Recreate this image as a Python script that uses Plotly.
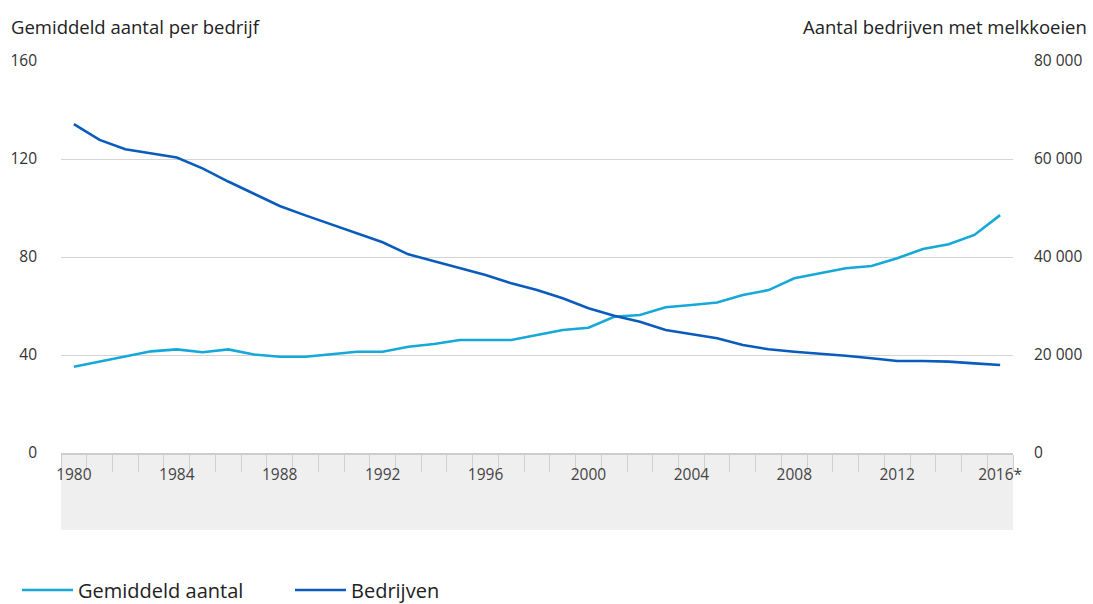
import plotly.graph_objects as go

years = list(range(1980, 2017))
gemiddeld_aantal = [35.2, 37.3, 39.3, 41.5, 42.3, 41.1, 42.3, 40.2, 39.3, 39.3,
                    40.3, 41.3, 41.3, 43.4, 44.5, 46.1, 46.1, 46.1, 48.2, 50.2,
                    51.1, 55.6, 56.3, 59.5, 60.4, 61.4, 64.5, 66.5, 71.3, 73.2,
                    75.4, 76.3, 79.5, 83.3, 85.2, 89.0, 97.1]
bedrijven = [67100, 63900, 62000, 61200, 60300, 58100, 55400, 52900, 50400, 48500,
             46660, 44830, 43000, 40550, 39100, 37690, 36330, 34630, 33270, 31570,
             29530, 28020, 26800, 25100, 24290, 23400, 22040, 21160, 20680, 20340,
             19860, 19320, 18780, 18780, 18640, 18300, 17960]

x_tickvals = [1980, 1984, 1988, 1992, 1996, 2000, 2004, 2008, 2012, 2016]
x_ticktext = ["1980", "1984", "1988", "1992", "1996", "2000", "2004", "2008", "2012", "2016*"]
y_left_ticks = [0, 40, 80, 120, 160]
y_right_ticks = [0, 20000, 40000, 60000, 80000]
y_right_text = ["0", "20 000", "40 000", "60 000", "80 000"]

LIGHT = "#16a8d8"
DARK = "#0a5cbc"
FONT = "Open Sans"

fig = go.Figure()
fig.add_trace(go.Scatter(x=years, y=gemiddeld_aantal, name="Gemiddeld aantal",
                         mode="lines", line=dict(color=LIGHT, width=2.6), yaxis="y"))
fig.add_trace(go.Scatter(x=years, y=bedrijven, name="Bedrijven",
                         mode="lines", line=dict(color=DARK, width=2.6), yaxis="y2"))

L, R, T, B = 61, 80, 61, 151
W, H = 1093, 604
pw = W - L - R
ph = H - T - B

def px_x(px):
    return (px - L) / pw

def px_y(py):
    return (H - B - py) / ph

fig.update_layout(
    width=W, height=H,
    margin=dict(l=L, r=R, t=T, b=B, autoexpand=False),
    paper_bgcolor="white", plot_bgcolor="white",
    font=dict(family=FONT, size=14, color="#333333"),
    showlegend=True,
    legend=dict(orientation="h", x=px_x(17), y=px_y(590), xanchor="left", yanchor="middle",
                font=dict(family=FONT, size=20, color="#222222"),
                itemwidth=51, entrywidth=207, entrywidthmode="pixels",
                bgcolor="rgba(0,0,0,0)"),
    xaxis=dict(type="linear", range=[1979.5, 2016.5], tickvals=x_tickvals, ticktext=x_ticktext,
               ticks="", showgrid=False, zeroline=False, showline=True, linecolor="#cccccc",
               linewidth=1.5, tickfont=dict(family=FONT, size=15.5, color="#444444"),
               ticklabelstandoff=7,
               minor=dict(ticks="outside", tick0=1979.5, dtick=1, ticklen=17,
                          tickcolor="#cfcfcf", tickwidth=1, showgrid=False)),
    yaxis=dict(range=[0, 160], tickvals=y_left_ticks, showgrid=True, gridcolor="#d4d4d4",
               gridwidth=1, zeroline=False, showline=False, ticks="",
               tickfont=dict(family=FONT, size=15.5, color="#333333"), ticklabelstandoff=23),
    yaxis2=dict(range=[0, 80000], tickvals=y_right_ticks, ticktext=y_right_text,
                overlaying="y", side="right", showgrid=False, zeroline=False, showline=False,
                ticks="", tickfont=dict(family=FONT, size=15.5, color="#333333"),
                ticklabelstandoff=20),
)

fig.add_shape(type="rect", xref="paper", yref="paper", x0=0, x1=1, y0=px_y(530), y1=0,
              fillcolor="#efefef", line=dict(width=0), layer="below")

fig.add_annotation(text="Gemiddeld aantal per bedrijf", xref="paper", yref="paper",
                   x=px_x(9), y=px_y(27), xanchor="left", yanchor="middle", showarrow=False,
                   font=dict(family=FONT, size=18.5, color="#222222"))
fig.add_annotation(text="Aantal bedrijven met melkkoeien", xref="paper", yref="paper",
                   x=px_x(1089), y=px_y(27), xanchor="right", yanchor="middle", showarrow=False,
                   font=dict(family=FONT, size=18.5, color="#222222"))

fig.write_html("out.html")
